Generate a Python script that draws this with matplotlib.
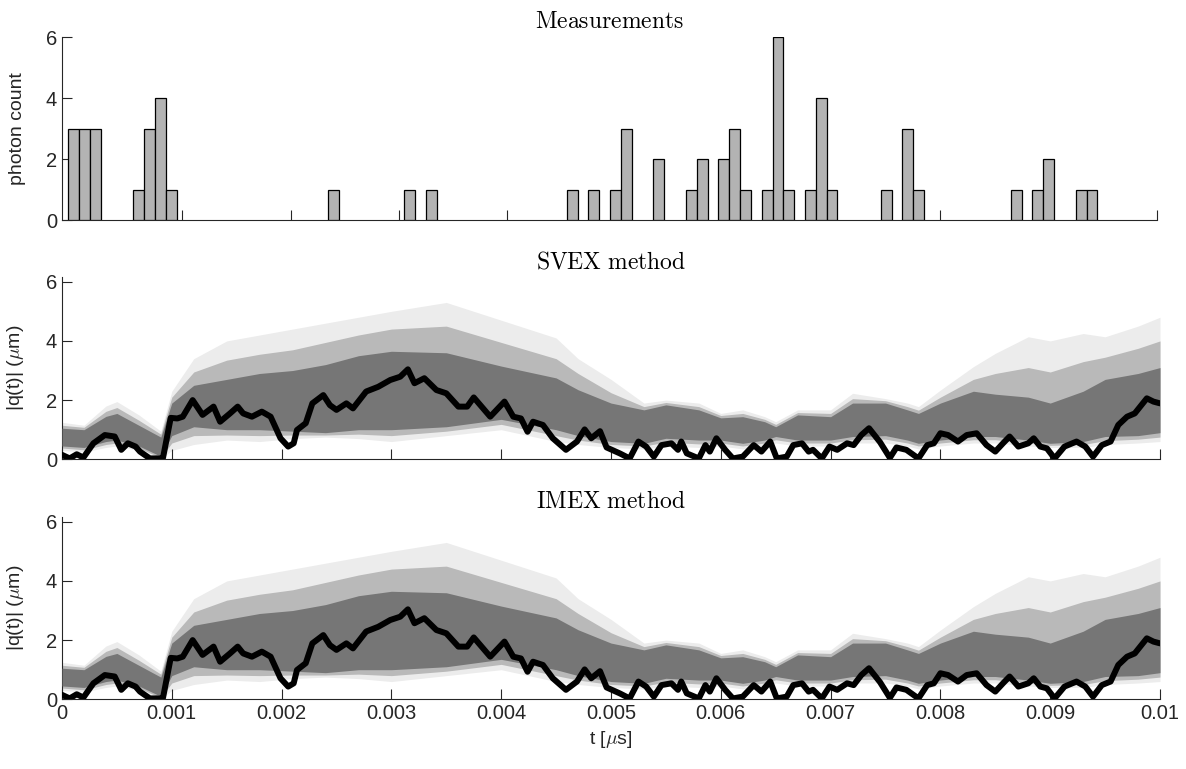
import numpy as np
import matplotlib
matplotlib.use("Agg")
import matplotlib.pyplot as plt

plt.rcParams['font.family'] = ['Liberation Sans', 'DejaVu Sans']
plt.rcParams['mathtext.fontset'] = 'cm'

# ---------------- data ----------------
bin_width = 0.0001
photon_bin_index = [0, 1, 2, 6, 7, 8, 9, 24, 31, 33, 46, 48, 50, 51, 54, 57, 58,
                    60, 61, 62, 64, 65, 66, 68, 69, 70, 75, 77, 78, 87, 89, 90, 93, 94]
photon_counts = [3, 3, 3, 1, 3, 4, 1, 1, 1, 1, 1, 1, 1, 3, 2, 1, 2,
                 2, 3, 1, 1, 6, 1, 1, 4, 1, 1, 3, 1, 1, 1, 2, 1, 1]

# reference trajectory (black)
true_t = [0, 0.00007, 0.000134, 0.000195, 0.000286, 0.00039, 0.00048, 0.00054, 0.0006,
          0.00067, 0.00071, 0.0008, 0.00089, 0.00092, 0.00099, 0.00105, 0.0011, 0.00119,
          0.00128, 0.00138, 0.00144, 0.00153, 0.0016, 0.00165, 0.00173, 0.00182, 0.0019,
          0.00199, 0.00206, 0.00211, 0.00214, 0.00222, 0.00228, 0.00238, 0.00244, 0.0025,
          0.00259, 0.00265, 0.00277, 0.00288, 0.00299, 0.00308, 0.00315, 0.00321, 0.0033,
          0.00341, 0.0035, 0.00361, 0.00369, 0.00375, 0.0039, 0.00403, 0.00411, 0.00418,
          0.00424, 0.00429, 0.00438, 0.00447, 0.00459, 0.00469, 0.00476, 0.00482, 0.0049,
          0.00496, 0.00508, 0.00517, 0.00525, 0.00532, 0.00539, 0.00546, 0.00555, 0.00561,
          0.00564, 0.00569, 0.0058, 0.00586, 0.0059, 0.00596, 0.00604, 0.00611, 0.0062,
          0.0063, 0.00637, 0.00645, 0.00651, 0.0066, 0.00666, 0.00674, 0.0068, 0.00684,
          0.00692, 0.00699, 0.00706, 0.00715, 0.00721, 0.00728, 0.00735, 0.00745, 0.00754,
          0.0076, 0.00769, 0.0078, 0.00788, 0.00794, 0.008, 0.00807, 0.00816, 0.00824,
          0.00833, 0.00842, 0.0085, 0.00857, 0.00863, 0.00871, 0.0088, 0.00885, 0.00891,
          0.00897, 0.00904, 0.00913, 0.00924, 0.00932, 0.00939, 0.00947, 0.00955, 0.00962,
          0.0097, 0.00977, 0.00988, 0.00994, 0.01]
true_q = [0.15, 0.03, 0.17, 0.06, 0.54, 0.82, 0.77, 0.32, 0.54,
          0.43, 0.26, 0.03, 0.03, 0.05, 1.40, 1.38, 1.44, 2.0,
          1.5, 1.78, 1.27, 1.55, 1.78, 1.55, 1.44, 1.61, 1.44,
          0.71, 0.43, 0.54, 0.99, 1.22, 1.89, 2.17, 1.83, 1.67,
          1.89, 1.72, 2.29, 2.45, 2.68, 2.79, 3.04, 2.57, 2.74,
          2.34, 2.23, 1.78, 1.78, 2.09, 1.44, 1.95, 1.44, 1.38,
          0.93, 1.27, 1.16, 0.71, 0.32, 0.6, 1.01, 0.71, 0.95,
          0.4, 0.2, 0.03, 0.6, 0.43, 0.09, 0.48, 0.54, 0.32,
          0.6, 0.2, 0.03, 0.48, 0.26, 0.71, 0.32, 0.03, 0.09,
          0.48, 0.26, 0.6, 0.03, 0.09, 0.48, 0.54, 0.26, 0.32,
          0.03, 0.43, 0.32, 0.54, 0.48, 0.82, 1.05, 0.58, 0.05,
          0.4, 0.32, 0.03, 0.48, 0.54, 0.88, 0.82, 0.6, 0.82,
          0.88, 0.48, 0.26, 0.54, 0.77, 0.43, 0.54, 0.71, 0.43,
          0.37, 0.03, 0.43, 0.6, 0.43, 0.09, 0.48, 0.6, 1.16,
          1.44, 1.55, 2.06, 1.95, 1.89]

band_t = [0, 0.0002, 0.0004, 0.0005, 0.0007, 0.0009, 0.001, 0.0012, 0.0015, 0.0018,
          0.0021, 0.0024, 0.0027, 0.003, 0.0035, 0.004, 0.0045, 0.0047, 0.005, 0.0053,
          0.0055, 0.0058, 0.006, 0.0062, 0.0064, 0.0065, 0.0067, 0.007, 0.0072, 0.0075,
          0.0077, 0.0078, 0.008, 0.0083, 0.0085, 0.0088, 0.009, 0.0093, 0.0095, 0.0098, 0.01]
core_lo = [0.45, 0.40, 0.60, 0.65, 0.45, 0.10, 0.80, 1.10, 1.00, 1.00,
           0.95, 0.90, 1.00, 1.00, 1.10, 1.35, 1.00, 0.80, 0.60, 0.54,
           0.71, 0.65, 0.65, 0.54, 0.65, 0.77, 0.65, 0.65, 0.77, 0.80,
           0.65, 0.54, 0.65, 0.77, 0.77, 0.65, 0.54, 0.60, 0.77, 0.80, 0.90]
core_hi = [1.05, 1.00, 1.45, 1.55, 1.15, 0.75, 1.90, 2.50, 2.70, 2.90,
           3.00, 3.20, 3.50, 3.65, 3.60, 3.15, 2.75, 2.35, 1.90, 1.67,
           1.84, 1.67, 1.40, 1.44, 1.27, 1.10, 1.50, 1.44, 1.90, 1.90,
           1.67, 1.55, 1.90, 2.30, 2.20, 2.10, 1.90, 2.30, 2.70, 2.90, 3.10]
mid_lo = [0.38, 0.32, 0.50, 0.55, 0.38, 0.05, 0.55, 0.80, 0.82, 0.80,
          0.82, 0.82, 0.85, 0.80, 0.95, 1.18, 0.80, 0.65, 0.50, 0.45,
          0.58, 0.52, 0.55, 0.45, 0.55, 0.66, 0.55, 0.55, 0.66, 0.68,
          0.55, 0.45, 0.55, 0.66, 0.66, 0.55, 0.47, 0.50, 0.63, 0.68, 0.75]
mid_hi = [1.15, 1.08, 1.62, 1.75, 1.32, 0.85, 2.10, 2.95, 3.35, 3.55,
          3.70, 3.95, 4.20, 4.40, 4.50, 3.95, 3.40, 2.90, 2.25, 1.78,
          1.92, 1.78, 1.48, 1.55, 1.35, 1.18, 1.58, 1.55, 2.05, 1.98,
          1.78, 1.66, 2.10, 2.70, 2.90, 3.10, 2.95, 3.30, 3.45, 3.75, 4.00]
outer_lo = [0.30, 0.25, 0.40, 0.45, 0.30, 0.00, 0.30, 0.50, 0.65, 0.60,
            0.70, 0.75, 0.70, 0.60, 0.80, 1.00, 0.60, 0.50, 0.40, 0.35,
            0.45, 0.40, 0.45, 0.35, 0.45, 0.55, 0.45, 0.45, 0.55, 0.55,
            0.45, 0.35, 0.45, 0.55, 0.55, 0.45, 0.40, 0.40, 0.50, 0.55, 0.60]
outer_hi = [1.25, 1.15, 1.80, 1.95, 1.50, 0.95, 2.30, 3.40, 4.00, 4.20,
            4.40, 4.60, 4.80, 5.00, 5.30, 4.70, 4.10, 3.40, 2.70, 1.90,
            2.00, 1.90, 1.55, 1.67, 1.44, 1.27, 1.67, 1.67, 2.23, 2.05,
            1.90, 1.78, 2.34, 3.13, 3.58, 4.14, 4.00, 4.25, 4.14, 4.50, 4.80]

tick_vals = [0, 0.001, 0.002, 0.003, 0.004, 0.005, 0.006, 0.007, 0.008, 0.009, 0.01]
tick_labels = ['0', '0.001', '0.002', '0.003', '0.004', '0.005', '0.006', '0.007',
               '0.008', '0.009', '0.01']
y_ticks = [0, 2, 4, 6]

panel_titles = ['Measurements', 'SVEX method', 'IMEX method']

# ---------------- figure ----------------
W, H = 1186, 769
fig = plt.figure(figsize=(W / 100, H / 100), dpi=100)

def frac(l, r, top, bot):
    return [l / W, 1 - bot / H, (r - l) / W, (bot - top) / H]

ax0 = fig.add_axes(frac(62, 1157, 37.3, 220))
ax1 = fig.add_axes(frac(62, 1160, 276.7, 459.3))
ax2 = fig.add_axes(frac(62, 1160, 516.7, 699.3))

axis_color = '#262626'
tick_fs = 14.5
label_fs = 14
title_fs = 17

def style(ax):
    for s in ['top', 'right']:
        ax.spines[s].set_visible(False)
    for s in ['left', 'bottom']:
        ax.spines[s].set_color(axis_color)
        ax.spines[s].set_linewidth(0.8)
    ax.tick_params(direction='in', length=7, width=0.8, colors=axis_color,
                   labelsize=tick_fs, labelcolor=axis_color)
    ax.set_xticks(tick_vals)
    ax.set_yticks(y_ticks)
    ax.set_yticklabels([str(v) for v in y_ticks])

# top: histogram of photon counts
bin_centers = [i * bin_width for i in photon_bin_index]
ax0.bar(bin_centers, photon_counts, width=bin_width, color='#b3b3b3',
        edgecolor='black', linewidth=0.9, align='center', zorder=3)
style(ax0)
ax0.set_xlim(-0.00011, 0.0100)
ax0.set_ylim(0, 6)
ax0.set_xticklabels([])
ax0.set_ylabel('photon count', fontsize=label_fs, color=axis_color)
ax0.set_title(r'$\mathrm{' + panel_titles[0] + '}$', fontsize=title_fs, pad=7)

for ax, title in [(ax1, panel_titles[1]), (ax2, panel_titles[2])]:
    ax.fill_between(band_t, outer_lo, outer_hi, color='#ececec', linewidth=0, zorder=1)
    ax.fill_between(band_t, mid_lo, mid_hi, color='#b9b9b9', linewidth=0, zorder=2)
    ax.fill_between(band_t, core_lo, core_hi, color='#767676', linewidth=0, zorder=3)
    ax.plot(true_t, true_q, color='black', linewidth=4.3, solid_joinstyle='round',
            solid_capstyle='round', zorder=4)
    style(ax)
    ax.set_xlim(0, 0.01)
    ax.set_ylim(0, 6.17)
    ax.set_ylabel(r'|q(t)| ($\mu$m)', fontsize=label_fs, color=axis_color)
    ax.set_title(r'$\mathrm{' + title.replace(' ', r'\ ') + '}$', fontsize=title_fs, pad=6)

ax1.set_xticklabels([])
ax2.set_xticklabels(tick_labels)
ax2.set_xlabel(r't [$\mu$s]', fontsize=label_fs, color=axis_color, labelpad=4)

for ax in (ax0, ax1, ax2):
    ax.yaxis.set_label_coords(-0.033, 0.5)

fig.savefig('out.png', dpi=100)
